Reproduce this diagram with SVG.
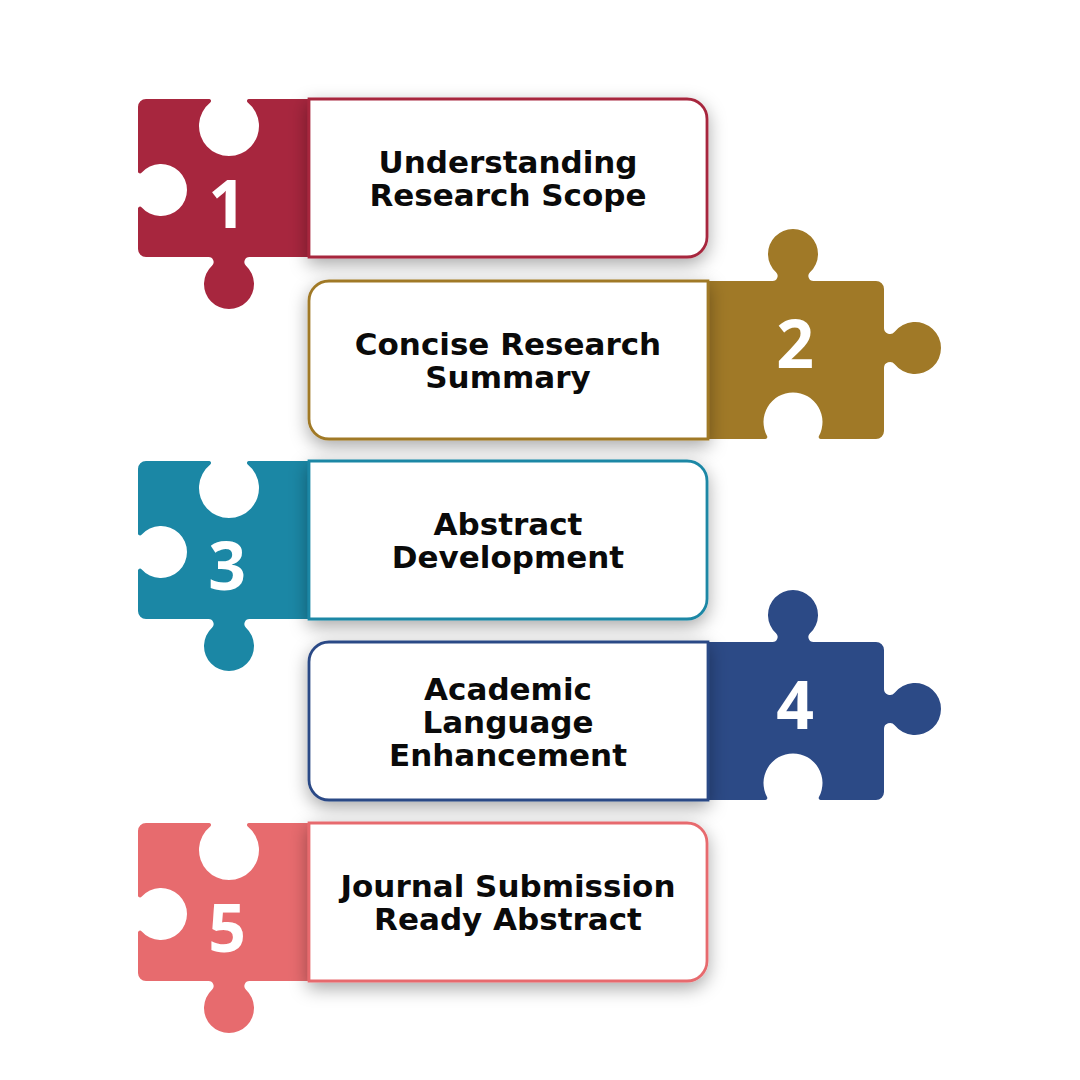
<svg xmlns="http://www.w3.org/2000/svg" xmlns:xlink="http://www.w3.org/1999/xlink" width="1080" height="1080" viewBox="0 0 1080 1080">
  <style>
    .lbl { font-family: "DejaVu Sans", "Liberation Sans", sans-serif; font-weight: bold; font-size: 31px; fill: #0a0a0a; text-anchor: middle; }
    .num { font-family: "Open Sans", "DejaVu Sans", sans-serif; font-weight: 700; font-size: 66px; fill: #ffffff; text-anchor: middle; }
    .box { fill: #ffffff; stroke-width: 2.8; filter: url(#sh); }
    .c1 { fill: #A7263E; } .s1 { stroke: #A7263E; }
    .c2 { fill: #A07927; } .s2 { stroke: #A07927; }
    .c3 { fill: #1B87A5; } .s3 { stroke: #1B87A5; }
    .c4 { fill: #2C4A86; } .s4 { stroke: #2C4A86; }
    .c5 { fill: #E76B6E; } .s5 { stroke: #E76B6E; }
  </style>
  <defs>
    <filter id="sh" x="-10%" y="-25%" width="120%" height="160%">
      <feDropShadow dx="0" dy="6" stdDeviation="9" flood-color="#000000" flood-opacity="0.34"/>
    </filter>
    <path id="pieceL" d="M 8 0 L 71.03 0 A 2 2 0 0 1 72.28 3.56 A 30 30 0 1 0 109.72 3.56 A 2 2 0 0 1 110.97 0 L 182 0 L 182 158 L 111.4 158 A 5 5 0 0 0 108 166.67 A 25 25 0 1 1 74 166.67 A 5 5 0 0 0 70.6 158 L 8 158 A 8 8 0 0 1 0 150 L 0 109.52 A 2 2 0 0 1 3.5 108.2 A 26 26 0 1 0 3.5 73.8 A 2 2 0 0 1 0 72.48 L 0 8 A 8 8 0 0 1 8 0 Z"/>
    <path id="pieceR" d="M -10 0 L 64.6 0 A 5 5 0 0 0 68 -8.67 A 25 25 0 1 1 102 -8.67 A 5 5 0 0 0 105.4 0 L 168 0 A 8 8 0 0 1 176 8 L 176 47 A 6 6 0 0 0 186.69 50.75 A 26 26 0 1 1 186.69 83.25 A 6 6 0 0 0 176 87 L 176 150 A 8 8 0 0 1 168 158 L 112.7 158 A 2 2 0 0 1 110.94 155.05 A 29.5 29.5 0 1 0 59.06 155.05 A 2 2 0 0 1 57.3 158 L -10 158 Z"/>
    <path id="boxL" d="M 309 0 L 687 0 A 20 20 0 0 1 707 20 L 707 138 A 20 20 0 0 1 687 158 L 309 158 Z"/>
    <path id="boxR" d="M 708 0 L 329 0 A 20 20 0 0 0 309 20 L 309 138 A 20 20 0 0 0 329 158 L 708 158 Z"/>
  </defs>
  <rect width="1080" height="1080" fill="#ffffff"/>

  <g id="step1" transform="translate(0,99)">
    <use xlink:href="#pieceL" href="#pieceL" class="c1" transform="translate(138,0)"/>
    <use xlink:href="#boxL" href="#boxL" class="box s1"/>
    <text class="num" x="227" y="129">1</text>
    <text class="lbl" x="508" y="74">Understanding</text>
    <text class="lbl" x="508" y="107">Research Scope</text>
  </g>

  <g id="step2" transform="translate(0,281)">
    <use xlink:href="#pieceR" href="#pieceR" class="c2" transform="translate(708,0)"/>
    <use xlink:href="#boxR" href="#boxR" class="box s2"/>
    <text class="num" x="795" y="87">2</text>
    <text class="lbl" x="508" y="74">Concise Research</text>
    <text class="lbl" x="508" y="107">Summary</text>
  </g>

  <g id="step3" transform="translate(0,461)">
    <use xlink:href="#pieceL" href="#pieceL" class="c3" transform="translate(138,0)"/>
    <use xlink:href="#boxL" href="#boxL" class="box s3"/>
    <text class="num" x="227" y="129">3</text>
    <text class="lbl" x="508" y="74">Abstract</text>
    <text class="lbl" x="508" y="107">Development</text>
  </g>

  <g id="step4" transform="translate(0,642)">
    <use xlink:href="#pieceR" href="#pieceR" class="c4" transform="translate(708,0)"/>
    <use xlink:href="#boxR" href="#boxR" class="box s4"/>
    <text class="num" x="795" y="87">4</text>
    <text class="lbl" x="508" y="58">Academic</text>
    <text class="lbl" x="508" y="91">Language</text>
    <text class="lbl" x="508" y="124">Enhancement</text>
  </g>

  <g id="step5" transform="translate(0,823)">
    <use xlink:href="#pieceL" href="#pieceL" class="c5" transform="translate(138,0)"/>
    <use xlink:href="#boxL" href="#boxL" class="box s5"/>
    <text class="num" x="227" y="129">5</text>
    <text class="lbl" x="508" y="74">Journal Submission</text>
    <text class="lbl" x="508" y="107">Ready Abstract</text>
  </g>
</svg>
